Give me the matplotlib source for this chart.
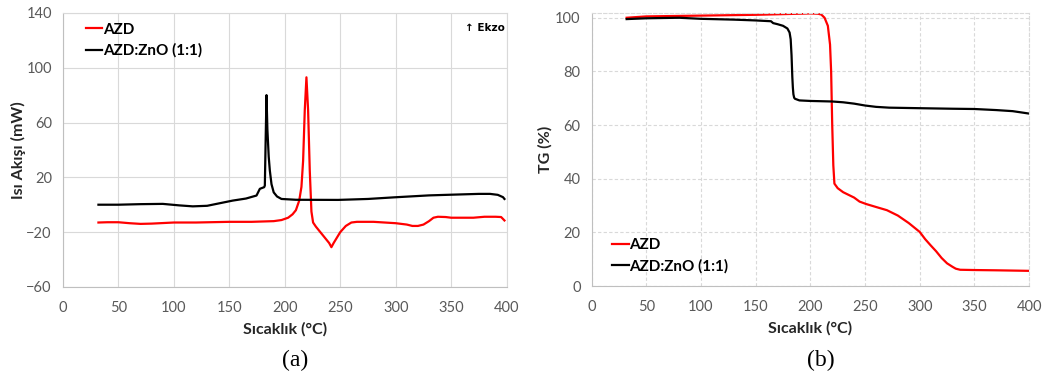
import matplotlib.pyplot as plt
import numpy as np

plt.rcParams['font.family'] = ['Lato', 'DejaVu Sans']

# DSC curves (a)
dsc_azd_x = [32, 40, 50, 60, 70, 80, 100, 120, 150, 170, 190, 197, 203, 207, 210, 213, 215,
             216.5, 218, 219.5, 221, 222.5, 224, 225.5, 228, 232, 236, 240, 242, 244, 247,
             250, 255, 260, 265, 270, 280, 290, 300, 310, 315, 320, 325, 330, 334, 338, 345,
             350, 360, 370, 380, 390, 395, 398]
dsc_azd_y = [-13, -12.8, -12.8, -13.5, -14, -13.8, -13, -13, -12.5, -12.5, -12, -11.2, -9.5,
             -7, -4, 3, 13, 32, 69, 93, 69, 25, -5, -13, -16, -20, -24, -28, -31, -28, -24,
             -20, -15.5, -13, -12.5, -12.5, -12.5, -13, -13.5, -14.5, -15.5, -15.5, -14.5, -12,
             -9.5, -8.8, -9, -9.5, -9.5, -9.5, -8.8, -8.8, -9, -11.5]

dsc_zno_x = [32, 50, 70, 90, 105, 117, 130, 153, 165, 174.5, 177.5, 181.4, 182, 182.8, 183.5,
             184.3, 185.5, 186.5, 188, 190, 193, 197, 210, 248, 275, 299, 330, 350, 375, 385,
             392, 396.7, 398]
dsc_zno_y = [0, 0, 0.4, 0.6, -0.5, -1.2, -0.8, 3, 4.5, 6.7, 11.6, 12.8, 14, 50, 80, 55, 35,
             25, 15, 9, 6, 4.2, 3.6, 3.5, 4.2, 5.4, 6.8, 7.3, 7.9, 7.9, 7.2, 5.5, 4.2]

# TG curves (b)
tg_azd_x = [32, 50, 100, 150, 180, 200, 207, 210, 213, 216, 218, 219, 220, 221, 222, 225, 230,
            235, 240, 245, 251, 260, 270, 280, 290, 300, 305, 310, 315, 320, 325, 330, 333, 337,
            350, 370, 400]
tg_azd_y = [100, 100.5, 100.8, 101.1, 101.4, 101.6, 101.5, 101.2, 100, 97, 90, 80, 60, 45,
            38.2, 36.5, 35, 34, 33, 31.5, 30.6, 29.5, 28.3, 26.3, 23.5, 20.2, 17.5, 15.2, 13,
            10.5, 8.5, 7.2, 6.5, 6.1, 6.0, 5.9, 5.7]

tg_zno_x = [32, 50, 80, 100, 130, 150, 164, 166, 170, 175, 179, 181, 182, 182.8, 183.5, 184,
            184.5, 185.2, 186, 190, 200, 220, 230, 240, 250, 260, 272, 300, 330, 350, 370, 385,
            400]
tg_zno_y = [99.5, 99.8, 100, 99.6, 99.3, 99, 98.7, 98, 97.6, 97, 96, 94.5, 92, 86, 78, 74,
            71.5, 70.2, 69.8, 69.2, 69, 68.8, 68.5, 68, 67.3, 66.8, 66.5, 66.3, 66.1, 66, 65.6,
            65.2, 64.3]

xticks = [0, 50, 100, 150, 200, 250, 300, 350, 400]
dsc_yticks = [-60, -20, 20, 60, 100, 140]
tg_yticks = [0, 20, 40, 60, 80, 100]

red = '#ff0000'
tick_col = '#595959'
grid_col = '#d9d9d9'
lab_font = {'fontsize': 11.5, 'fontweight': 'bold', 'color': '#262626'}
leg_font = {'size': 11, 'weight': 'bold'}

fig = plt.figure(figsize=(10.49, 3.8), dpi=100)
ax1 = fig.add_axes([0.060, 0.245, 0.423, 0.721])
ax2 = fig.add_axes([0.564, 0.247, 0.417, 0.719])

ax1.plot(dsc_azd_x, dsc_azd_y, color=red, lw=1.6, label='AZD')
ax1.plot(dsc_zno_x, dsc_zno_y, color='black', lw=1.6, label='AZD:ZnO (1:1)')
ax1.set_xlim(0, 400)
ax1.set_ylim(-60, 140)
ax1.set_yticks(dsc_yticks)
ax1.grid(True, color=grid_col, lw=0.8)
ax1.set_ylabel('Isı Akışı (mW)', labelpad=0, **lab_font)
ax1.text(0.995, 0.965, '↑ Ekzo', transform=ax1.transAxes, ha='right', va='top',
         fontsize=7.5, fontweight='bold', family=['DejaVu Sans'])
ax1.legend(loc='upper left', bbox_to_anchor=(0.02, 1.015), frameon=False,
           handlelength=1.1, handletextpad=0.05, labelspacing=0.45, prop=leg_font)

ax2.plot(tg_azd_x, tg_azd_y, color=red, lw=1.6, label='AZD')
ax2.plot(tg_zno_x, tg_zno_y, color='black', lw=1.6, label='AZD:ZnO (1:1)')
ax2.set_xlim(0, 400)
ax2.set_ylim(0, 101.8)
ax2.set_yticks(tg_yticks)
ax2.grid(True, color=grid_col, lw=0.8, ls=(0, (3, 2)))
ax2.set_ylabel('TG (%)', labelpad=2, **lab_font)
ax2.legend(loc='lower left', bbox_to_anchor=(0.015, -0.005), frameon=False,
           handlelength=1.1, handletextpad=0.05, labelspacing=0.45, prop=leg_font)

for ax in (ax1, ax2):
    ax.set_xticks(xticks)
    ax.set_xlabel('Sıcaklık (°C)', labelpad=5, **lab_font)
    ax.tick_params(length=0, labelsize=10.5, colors=tick_col)
    ax.tick_params(axis='x', pad=10)
    ax.tick_params(axis='y', pad=8)
    ax.set_axisbelow(True)
    for s in ax.spines.values():
        s.set_color(grid_col)
        s.set_linewidth(0.8)
    ax.spines['left'].set_color('#bfbfbf')
    ax.spines['bottom'].set_color('#bfbfbf')
ax2.spines['top'].set_linestyle((0, (3, 2)))
ax2.spines['right'].set_linestyle((0, (3, 2)))

fig.text(0.281, 0.052, '(a)', ha='center', va='center', fontsize=17, family='Liberation Serif')
fig.text(0.782, 0.052, '(b)', ha='center', va='center', fontsize=17, family='Liberation Serif')

fig.savefig('out.png', dpi=100)
